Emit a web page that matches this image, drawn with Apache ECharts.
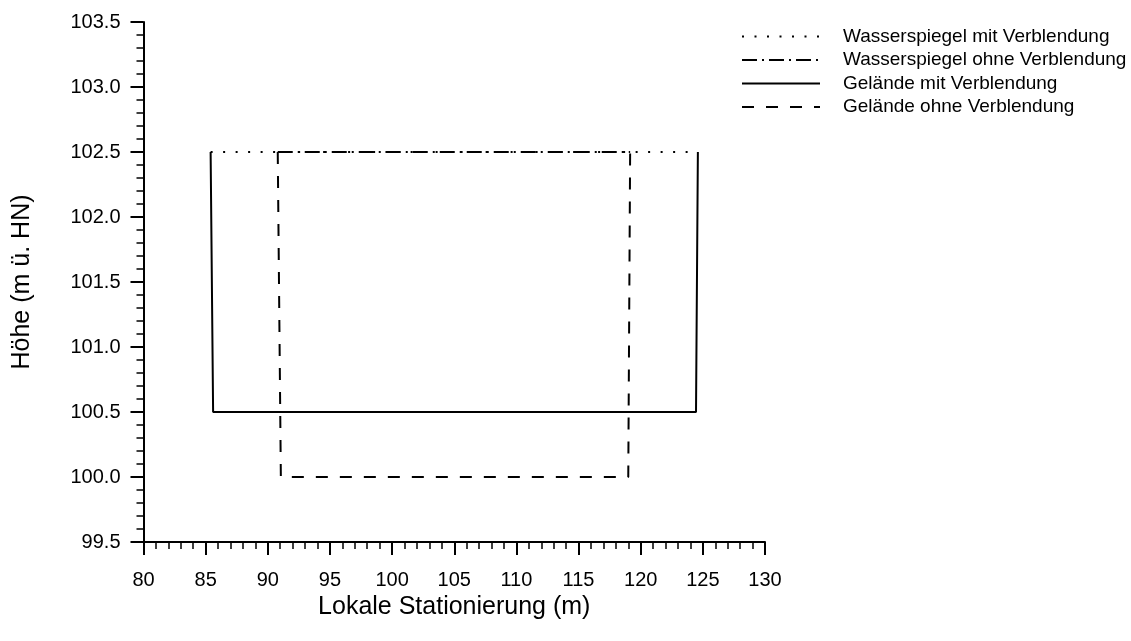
<!DOCTYPE html>
<html><head><meta charset="utf-8">
<script src="https://cdn.jsdelivr.net/npm/echarts@6/dist/echarts.min.js"></script>
<style>html,body{margin:0;padding:0;background:#fff}#c{width:1131px;height:641px}</style>
</head><body><div id="c"></div>
<script>
const seriesNames = ['Wasserspiegel mit Verblendung','Wasserspiegel ohne Verblendung','Gelände mit Verblendung','Gelände ohne Verblendung'];
const wsMit = [[85.4,102.5],[124.6,102.5]];
const wsOhne = [[90.8,102.5],[119.15,102.5]];
const gelMit = [[85.4,102.5],[85.6,100.5],[124.45,100.5],[124.6,102.5]];
const gelOhne = [[90.8,102.5],[91.05,100.0],[119.0,100.0],[119.15,102.5]];
const xTitle = 'Lokale Stationierung (m)';
const yTitle = 'Höhe (m ü. HN)';

const font = 'Liberation Sans, Arial, sans-serif';
const chart = echarts.init(document.getElementById('c'), null, {renderer:'canvas'});
const mk = (name, data, type) => ({
  name, type:'line', data, symbol:'none', animation:false, color:'#000',
  lineStyle:{color:'#000', width:2, type}
});
chart.setOption({
  animation:false,
  grid:{left:143.5, right:366, top:22, bottom:99},
  legend:{
    orient:'vertical', left:736, top:22, itemWidth:78, itemHeight:19, itemGap:4.5,
    itemStyle:{opacity:0},
    textStyle:{fontFamily:font, fontSize:19, lineHeight:19, color:'#000', padding:[0,0,0,18]},
    data: seriesNames
  },
  xAxis:{
    type:'value', min:80, max:130, interval:5,
    name:xTitle, nameLocation:'middle', nameGap:46,
    nameTextStyle:{fontFamily:font, fontSize:25, color:'#000'},
    axisLine:{onZero:false, lineStyle:{color:'#000', width:2}},
    axisTick:{length:13, lineStyle:{color:'#000', width:2}},
    minorTick:{show:true, splitNumber:5, length:7, lineStyle:{color:'#000', width:1.5}},
    axisLabel:{fontFamily:font, fontSize:20, color:'#000', margin:28},
    splitLine:{show:false}
  },
  yAxis:{
    type:'value', min:99.5, max:103.5, interval:0.5,
    name:yTitle, nameLocation:'middle', nameGap:109, nameRotate:90,
    nameTextStyle:{fontFamily:font, fontSize:25, color:'#000'},
    axisLine:{onZero:false, lineStyle:{color:'#000', width:2}},
    axisTick:{length:13, lineStyle:{color:'#000', width:2}},
    minorTick:{show:true, splitNumber:5, length:7, lineStyle:{color:'#000', width:1.5}},
    axisLabel:{fontFamily:font, fontSize:20, color:'#000', margin:23, formatter:v=>v.toFixed(1)},
    splitLine:{show:false}
  },
  series:[
    mk(seriesNames[0], wsMit, [2,10.5]),
    mk(seriesNames[1], wsOhne, [15,5,2,5]),
    mk(seriesNames[2], gelMit, 'solid'),
    mk(seriesNames[3], gelOhne, [12,12])
  ]
});
</script></body></html>
